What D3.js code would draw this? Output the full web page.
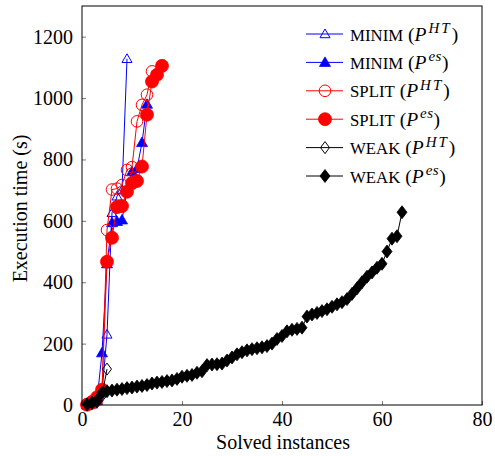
<!DOCTYPE html>
<html><head><meta charset="utf-8">
<script src="https://cdn.jsdelivr.net/npm/d3@7"></script>
<style>body{margin:0;background:#fff}svg{display:block}text,tspan{font-family:"Liberation Serif","Times New Roman",Times,Tinos,"DejaVu Serif",serif !important;fill:#000}</style>
</head><body><svg id="c" width="495" height="456"></svg>
<script>
const xTicks = [0, 20, 40, 60, 80];
const yTicks = [0, 200, 400, 600, 800, 1000, 1200];
const minimHT = [2, 5, 15, 40, 230, 626, 680, 700, 1128];
const minimES = [0, 3, 15, 170, 460, 594, 598, 603, 700, 760, 770, 855, 980];
const splitHT = [2, 5, 15, 40, 570, 702, 705, 717, 766, 775, 924, 978, 1011, 1087];
const splitES = [1, 10, 25, 50, 467, 545, 645, 648, 695, 723, 730, 777, 946, 1054, 1076, 1105];
const weakHT = [2, 5, 10, 30, 117];
const weakES = [2, 8, 15, 40, 45, 47, 50, 52, 55, 57, 60, 62, 65, 70, 73, 75, 78, 80, 85, 92, 95, 98, 105, 110,
  130, 132, 133, 135, 145, 155, 165, 172, 178, 182, 185, 188, 192, 200, 215, 225, 240, 245, 248, 252,
  288, 295, 300, 306, 312, 320, 328, 335, 345, 362, 380, 400, 418, 432, 447, 460, 500, 542, 550, 628];
const legendNames = ["MINIM", "MINIM", "SPLIT", "SPLIT", "WEAK", "WEAK"];
const legendSups = ["HT", "es", "HT", "es", "HT", "es"];

const svg = d3.select("#c");
const L = 82, R = 482, T = 6, B = 405;
const x = d3.scaleLinear().domain([0, 80]).range([L, R]);
const y = d3.scaleLinear().domain([0, 1300]).range([B, T]);
const FONT = '"Liberation Serif","Times New Roman",Times,Tinos,"DejaVu Serif",serif';

const gx = svg.append("g").attr("transform", `translate(0,${B})`)
  .call(d3.axisBottom(x).tickValues(xTicks).tickSize(-4).tickPadding(6.5).tickFormat(d3.format("d")));
const gy = svg.append("g").attr("transform", `translate(${L},0)`)
  .call(d3.axisLeft(y).tickValues(yTicks).tickSize(-4).tickPadding(9).tickFormat(d3.format("d")));
[gx, gy].forEach(g => {
  g.attr("font-family", FONT).attr("font-size", 20);
  g.select(".domain").remove();
  g.selectAll(".tick line").attr("stroke", "#555").attr("stroke-width", 0.8);
  g.selectAll(".tick text").attr("fill", "#000");
});
gx.selectAll(".tick text").attr("dy", "0.72em");

const series = [
  {v: minimHT, c: "#0000ff", m: "tri", f: false},
  {v: minimES, c: "#0000ff", m: "tri", f: true},
  {v: splitHT, c: "#ff0000", m: "circ", f: false},
  {v: splitES, c: "#ff0000", m: "circ", f: true},
  {v: weakHT, c: "#000", m: "dia", f: false},
  {v: weakES, c: "#000", m: "dia", f: true}
];
function markerPath(m, f) {
  if (m === "tri") return f ? "M0,-5.5L5.5,4L-5.5,4Z" : "M0,-5L5,3.7L-5,3.7Z";
  return f ? "M0,-6.5L5,0L0,6.5L-5,0Z" : "M0,-6L4.5,0L0,6L-4.5,0Z";
}
function drawMarker(g, s) {
  const el = s.m === "circ"
    ? g.append("circle").attr("r", s.f ? 6.5 : 5.8)
    : g.append("path").attr("d", markerPath(s.m, s.f));
  el.attr("fill", s.f ? s.c : "none").attr("stroke", s.c).attr("stroke-width", s.f ? 0.8 : 1);
}
const line = d3.line().x((d, i) => x(i + 1)).y(d => y(d));
const plot = svg.append("g");
series.forEach(s => {
  const g = plot.append("g");
  g.append("path").datum(s.v).attr("d", line).attr("fill", "none").attr("stroke", s.c).attr("stroke-width", 1);
  s.v.forEach((d, i) => {
    drawMarker(g.append("g").attr("transform", `translate(${x(i + 1)},${y(d)})`), s);
  });
});

svg.append("rect").attr("x", L).attr("y", T).attr("width", R - L).attr("height", B - T)
  .attr("fill", "none").attr("stroke", "#000").attr("stroke-width", 1);

svg.append("text").attr("x", (L + R) / 2 + 1).attr("y", 449).attr("text-anchor", "middle")
  .attr("font-family", FONT).attr("font-size", 20).text("Solved instances");
svg.append("text").attr("transform", `translate(27,${(T + B) / 2 + 3}) rotate(-90)`).attr("text-anchor", "middle")
  .attr("font-family", FONT).attr("font-size", 20).text("Execution time (s)");

const leg = svg.append("g").attr("font-family", FONT);
legendNames.forEach((name, i) => {
  const s = series[i];
  const cy = 34 + i * 28.4;
  const g = leg.append("g").attr("transform", `translate(0,${cy})`);
  g.append("line").attr("x1", 306).attr("x2", 343).attr("y1", 0).attr("y2", 0).attr("stroke", s.c).attr("stroke-width", 1);
  drawMarker(g.append("g").attr("transform", "translate(325,0)"), s);
  const t = g.append("text").attr("x", 350).attr("y", 6.5).attr("font-size", 19.5);
  t.append("tspan").attr("font-size", 16.8).text(name);
  t.append("tspan").text(" (");
  t.append("tspan").style("font-style", "italic").text("P");
  t.append("tspan").style("font-style", "italic").attr("font-size", 15)
    .attr("letter-spacing", legendSups[i] === "HT" ? 2 : 0.5).attr("dx", 2).attr("dy", -7.5).text(legendSups[i]);
  t.append("tspan").attr("dy", 7.5).text(")");
});
</script></body></html>
